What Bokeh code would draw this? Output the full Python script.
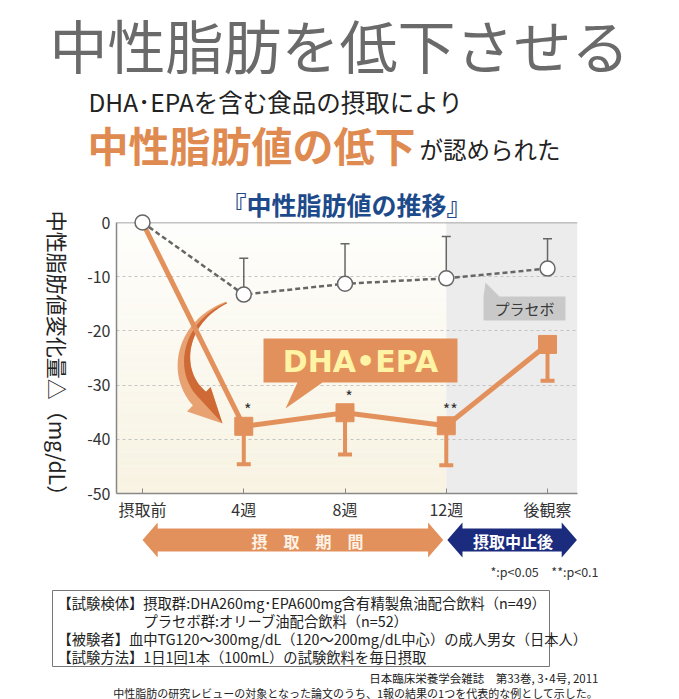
import numpy as np
from bokeh.plotting import figure
from bokeh.models import Range1d, FixedTicker, ColumnDataSource, Whisker, TeeHead, Span
from bokeh.core.properties import value
from bokeh.embed import file_html
from bokeh.resources import INLINE

# ---------------- data ----------------
categories = ["摂取前", "4週", "8週", "12週", "後観察"]
x_pos = [0, 1, 2, 3, 4]
dha_mean = [0.0, -37.6, -35.1, -37.5, -22.5]
dha_sd = [0.0, 7.0, 7.7, 7.3, 6.7]
placebo_mean = [0.0, -13.3, -11.3, -10.3, -8.5]
placebo_sd = [0.0, 6.7, 7.4, 7.7, 5.5]
signif = ["", "*", "*", "**", ""]
y_ticks = [0, -10, -20, -30, -40, -50]

JP = "Noto Sans CJK JP"
ORANGE = "#e3915c"
ORANGE_T = "#df8a50"
GRAY = "#666666"

W, H = 679, 699
FL, FR, FT, FB = 116, 577, 222, 493   # frame edges in page pixels

p = figure(width=W, height=H, output_backend="svg", toolbar_location=None,
           x_range=Range1d(-0.257, 4.296), y_range=Range1d(-50, 0),
           min_border_left=FL, min_border_right=W - FR,
           min_border_top=FT, min_border_bottom=H - FB)
p.extra_x_ranges = {"px": Range1d(FL, FR)}
p.extra_y_ranges = {"py": Range1d(FB, FT)}
p.outline_line_color = None
p.background_fill_color = "white"
p.border_fill_color = "white"

# ---------------- axes ----------------
p.yaxis.ticker = FixedTicker(ticks=y_ticks)
p.yaxis.major_label_overrides = {t: str(t) for t in y_ticks}
p.yaxis.major_tick_in = 0
p.yaxis.major_tick_out = 0
p.yaxis.minor_tick_line_color = None
p.yaxis.major_label_standoff = 6
p.yaxis.axis_line_color = "#888888"
p.yaxis.axis_line_width = 1.5

p.xaxis.ticker = FixedTicker(ticks=x_pos)
p.xaxis.major_label_overrides = {i: c for i, c in zip(x_pos, categories)}
p.xaxis.major_tick_in = 5
p.xaxis.major_tick_out = 0
p.xaxis.major_tick_line_color = "#888888"
p.xaxis.minor_tick_line_color = None
p.xaxis.major_label_standoff = 3
p.xaxis.axis_line_color = "#888888"
p.xaxis.axis_line_width = 1.5
for ax in (p.xaxis, p.yaxis):
    ax.major_label_text_font = JP
    ax.major_label_text_font_size = "16px"
    ax.major_label_text_color = "#333333"

p.xgrid.visible = False
p.ygrid.ticker = FixedTicker(ticks=[-10, -20, -30, -40])
p.ygrid.grid_line_color = "#c4c4c4"
p.ygrid.grid_line_dash = "3 3"
p.ygrid.grid_line_width = 1

# ---------------- backgrounds ----------------
nb = 40
edges = np.linspace(0, -50, nb + 1)
c0 = np.array([254, 254, 252]); c1 = np.array([248, 243, 226])
cols = ["#%02x%02x%02x" % tuple(int(v) for v in c0 + (c1 - c0) * (i + 0.5) / nb) for i in range(nb)]
p.quad(left=-0.257, right=3, top=edges[:-1], bottom=edges[1:], fill_color=cols,
       line_color=None, level="image")
p.quad(left=3, right=4.296, top=0, bottom=-50, fill_color="#ececec", line_color=None, level="image")
p.add_layout(Span(location=0, dimension="width", line_color="#888888", line_width=1.5))

def txt(x, y, s, size, color, align="left", baseline="middle", bold=False, font=JP,
        angle=0.0, xr="px", yr="py"):
    p.text(x=[x], y=[y], text=[s], text_font=value(font), text_font_size=value(f"{size}px"),
           text_color=color, text_align=align, text_baseline=baseline,
           text_font_style="bold" if bold else "normal", angle=angle,
           x_range_name=xr, y_range_name=yr, level="overlay")

# ---------------- curved arrow (decoration) ----------------
def bez(P, n=60):
    t = np.linspace(0, 1, n)[:, None]
    P = np.array(P, float)
    pts = (1 - t) ** 3 * P[0] + 3 * (1 - t) ** 2 * t * P[1] + 3 * (1 - t) * t ** 2 * P[2] + t ** 3 * P[3]
    d = 3 * (1 - t) ** 2 * (P[1] - P[0]) + 6 * (1 - t) * t * (P[2] - P[1]) + 3 * t ** 2 * (P[3] - P[2])
    d = d / np.linalg.norm(d, axis=1)[:, None]
    return pts, d, t[:, 0]

P = [(226, 302), (180, 322), (172, 372), (199, 398)]
pts, d, t = bez(P)
nrm = np.column_stack([-d[:, 1], d[:, 0]])
w = 1 + 8.5 * t
outer = pts + nrm * w[:, None]
inner = pts - nrm * w[:, None]
end = pts[-1]; nd = nrm[-1]
tip = np.array([222, 423])
bl = end + nd * 18; br = end - nd * 16
xs = list(outer[:, 0]) + [bl[0], tip[0], br[0]] + list(inner[::-1, 0])
ys = list(outer[:, 1]) + [bl[1], tip[1], br[1]] + list(inner[::-1, 1])
p.patch(xs, ys, fill_color="#e8a272", line_color=None, x_range_name="px", y_range_name="py", level="overlay")
xs2 = list(pts[:, 0]) + [end[0], tip[0], br[0]] + list(inner[::-1, 0])
ys2 = list(pts[:, 1]) + [end[1], tip[1], br[1]] + list(inner[::-1, 1])
p.patch(xs2, ys2, fill_color="#cf6a36", line_color=None, x_range_name="px", y_range_name="py", level="overlay")

# ---------------- data marks ----------------
src_d = ColumnDataSource(dict(x=x_pos[1:], m=dha_mean[1:],
                              lo=[m - s for m, s in zip(dha_mean[1:], dha_sd[1:])]))
src_p = ColumnDataSource(dict(x=x_pos[1:], m=placebo_mean[1:],
                              hi=[m + s for m, s in zip(placebo_mean[1:], placebo_sd[1:])]))
p.add_layout(Whisker(source=src_d, base="x", upper="m", lower="lo", upper_head=None,
                     lower_head=TeeHead(size=14, line_color=ORANGE, line_width=4),
                     line_color=ORANGE, line_width=4))
p.add_layout(Whisker(source=src_p, base="x", upper="hi", lower="m", lower_head=None,
                     upper_head=TeeHead(size=9, line_color=GRAY, line_width=1.5),
                     line_color=GRAY, line_width=1.5))

p.line(x_pos, dha_mean, line_color=ORANGE, line_width=5, level="overlay")
p.scatter(x_pos[1:], dha_mean[1:], marker="square", size=18, fill_color=ORANGE,
          line_color=ORANGE, level="overlay")
p.line(x_pos, placebo_mean, line_color=GRAY, line_width=2.5, line_dash="5 3", level="overlay")
p.scatter(x_pos, placebo_mean, marker="circle", size=15, fill_color="white",
          line_color=GRAY, line_width=1.5, level="overlay")
p.text(x=x_pos, y=dha_mean, text=signif, text_font=value(JP), text_font_size=value("16px"),
       text_color="#333333", text_align="center", text_baseline="middle",
       x_offset=4, y_offset=-17, level="overlay")

# ---------------- callouts ----------------
p.patch([263, 457, 457, 322, 285, 297, 263], [338, 338, 382, 382, 408, 382, 382],
        fill_color=ORANGE, line_color=None, x_range_name="px", y_range_name="py", level="overlay")
txt(360, 361, "DHA•EPA", 30, "#fff4a6", align="center", bold=True, font="DejaVu Sans")
p.patch([483, 565, 565, 483, 483, 485, 499], [296, 296, 320, 320, 296, 282, 296],
        fill_color="#c9c9c9", line_color=None, x_range_name="px", y_range_name="py", level="overlay")
txt(524, 308, "プラセボ", 15, "#3a3a3a", align="center")

# ---------------- bottom arrows ----------------
def dbl_arrow(x0, x1, yc, hh, sh, hl, color):
    xs = [x0, x0 + hl, x0 + hl, x1 - hl, x1 - hl, x1, x1 - hl, x1 - hl, x0 + hl, x0 + hl]
    ys = [yc, yc - hh, yc - sh, yc - sh, yc - hh, yc, yc + hh, yc + sh, yc + sh, yc + hh]
    p.patch(xs, ys, fill_color=color, line_color=None, y_range_name="py", level="overlay")

dbl_arrow(0.0, 2.97, 539.5, 17.5, 11.5, 0.15, "#e3915c")
dbl_arrow(3.01, 4.29, 539.5, 17.5, 11.5, 0.15, "#1b2b7d")
txt(1.63, 540, "摂\u3000取\u3000期\u3000間", 16, "#fdf2e6", align="center", bold=True, xr="default")
txt(3.66, 540, "摂取中止後", 16, "white", align="center", bold=True, xr="default")

# ---------------- titles ----------------
txt(339, 1, "中性脂肪を低下させる", 58, "#6a6a6a", align="center", baseline="top")
txt(88, 101, "DHA･EPAを含む食品の摂取により", 24.5, "#222222")
txt(87, 143, "中性脂肪値の低下", 41, ORANGE_T, bold=True)
txt(419, 148, "が認められた", 23.5, "#222222")
txt(346, 203, "『中性脂肪値の推移』", 25, "#1d4a8a", align="center", bold=True)
txt(57, 358, "中性脂肪値変化量△（mg/dL）", 21, "#222222", align="center", angle=-np.pi / 2)

# ---------------- notes ----------------
txt(598, 571, "*:p<0.05　**:p<0.1", 12.5, "#333333", align="right")
p.quad(left=52, right=549, top=590, bottom=666, fill_color=None, line_color="#777777",
       line_width=1, x_range_name="px", y_range_name="py", level="overlay")
txt(57, 602, "【試験検体】摂取群:DHA260mg･EPA600mg含有精製魚油配合飲料（n=49）", 14.3, "#222222")
txt(143, 620, "プラセボ群:オリーブ油配合飲料（n=52）", 14.3, "#222222")
txt(57, 638, "【被験者】血中TG120～300mg/dL（120～200mg/dL中心）の成人男女（日本人）", 14.3, "#222222")
txt(57, 656, "【試験方法】1日1回1本（100mL）の試験飲料を毎日摂取", 14.3, "#222222")
txt(598, 677, "日本臨床栄養学会雑誌　第33巻, 3･4号, 2011", 11.5, "#222222", align="right")
txt(598, 692, "中性脂肪の研究レビューの対象となった論文のうち、1報の結果の1つを代表的な例として示した。",
    11, "#222222", align="right")

open("out.html", "w").write(file_html(p, INLINE))
